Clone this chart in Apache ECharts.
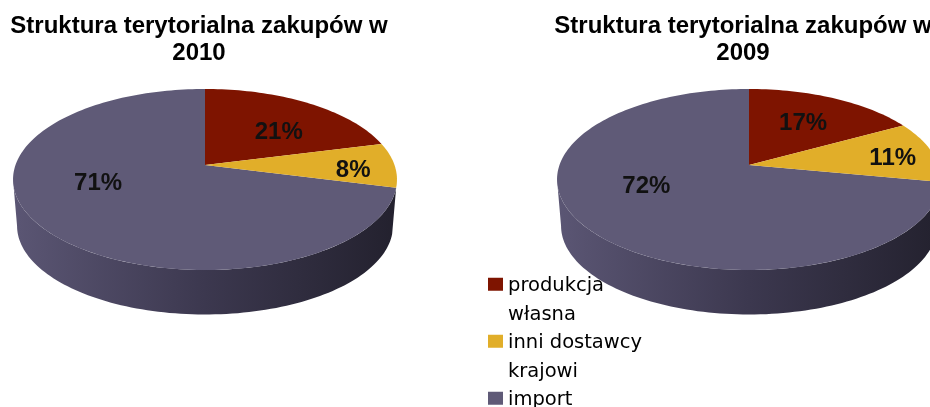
<!DOCTYPE html>
<html>
<head>
<meta charset="utf-8">
<style>html,body{margin:0;padding:0;background:#fff;overflow:hidden}#main{width:930px;height:407px;filter:blur(0.45px)}</style>
<script src="https://cdn.jsdelivr.net/npm/echarts@6/dist/echarts.min.js"></script>
</head>
<body>
<div id="main"></div>
<script>
const years = ['2010', '2009'];
const categories = ['produkcja własna', 'inni dostawcy krajowi', 'import'];
const legendLines = ['produkcja\nwłasna', 'inni dostawcy\nkrajowi', 'import\n '];
const produkcja = [21, 17];
const dostawcy = [8, 11];
const importShare = [71, 72];
const colors = ['#7e1400', '#e1ae29', '#5f5a77'];
const titlePrefix = 'Struktura terytorialna zakupów w';

// Perspective of the pie disc
const pieX = [205, 749], pieY = 165;
const A = 189.5, B = 88.2, K = 0.16;
const depthY = 46.7, depthScale = 0.979;
// Label shift from the mid-angle anchor, per pie and slice
const labelNudge = [[[4, 9], [25, 5], [-3, -19]], [[-3.5, 4], [24, 2], [-1, -18]]];

const seriesValues = [produkcja, dostawcy, importShare];

function project(pie, deg, r, lower) {
  const t = deg * Math.PI / 180;
  const u = r * Math.sin(t), v = r * Math.cos(t), w = 1 + K * v;
  const s = lower ? depthScale : 1, d = lower ? depthY : 0;
  return [pieX[pie] + s * A * u / w, pieY + d - s * B * v / w];
}
function arc(pie, a0, a1, lower) {
  const pts = [], n = Math.max(2, Math.ceil(Math.abs(a1 - a0) / 1.5));
  for (let i = 0; i <= n; i++) pts.push(project(pie, a0 + (a1 - a0) * i / n, 1, lower));
  return pts;
}
function renderSlice(params, api) {
  const pie = params.dataIndex, idx = params.seriesIndex;
  const value = api.value(0);
  let before = 0;
  for (let i = 0; i < idx; i++) before += seriesValues[i][pie];
  const a0 = before * 3.6, a1 = (before + value) * 3.6;
  const children = [];
  const tangent = Math.acos(-K) * 180 / Math.PI;
  if (a0 < 180 && a1 > 180) {
    const s0 = Math.max(a0, tangent), s1 = Math.min(a1, 360 - tangent);
    children.push({
      type: 'polygon',
      shape: { points: arc(pie, s0, s1, false).concat(arc(pie, s1, s0, true)) },
      style: {
        fill: new echarts.graphic.LinearGradient(0, 0, 1, 0, [
          { offset: 0, color: '#5b5674' },
          { offset: 0.5, color: '#3c384f' },
          { offset: 1, color: '#23212e' }
        ])
      }
    });
  }
  children.push({
    type: 'polygon',
    shape: { points: [[pieX[pie], pieY]].concat(arc(pie, a0, a1, false)) },
    style: { fill: colors[idx] }
  });
  const anchor = project(pie, (a0 + a1) / 2, 0.65, false);
  const nudge = labelNudge[pie][idx];
  children.push({
    type: 'text',
    z2: 10,
    style: {
      text: value + '%',
      x: anchor[0] + nudge[0],
      y: anchor[1] + nudge[1],
      align: 'center',
      verticalAlign: 'middle',
      font: 'bold 24px "Liberation Sans"',
      fill: '#111'
    }
  });
  return { type: 'group', children };
}

const chart = echarts.init(document.getElementById('main'), null, { renderer: 'canvas' });
chart.setOption({
  animation: false,
  backgroundColor: '#fff',
  title: years.map((y, i) => ({
    text: titlePrefix + '\n' + y,
    left: [194, 738][i],
    top: 8,
    textAlign: 'center',
    textStyle: { fontFamily: 'Liberation Sans', fontWeight: 'bold', fontSize: 24, lineHeight: 27, color: '#000' }
  })),
  legend: {
    data: categories,
    orient: 'vertical',
    left: 483,
    top: 267,
    height: 300,
    itemGap: 0,
    itemWidth: 15,
    itemHeight: 57,
    icon: 'path://M0 0L0 0M0 5.75H15V18.75H0ZM0 57L0 57',
    formatter: n => legendLines[categories.indexOf(n)],
    textStyle: { fontFamily: 'DejaVu Sans', fontSize: 19.5, lineHeight: 28.5, color: '#000' }
  },
  series: categories.map((name, i) => ({
    type: 'custom',
    name,
    coordinateSystem: 'none',
    z: i === 2 ? 1 : 2,
    itemStyle: { color: colors[i] },
    renderItem: renderSlice,
    clip: false,
    data: seriesValues[i].map(v => [v])
  }))
});
</script>
</body>
</html>
